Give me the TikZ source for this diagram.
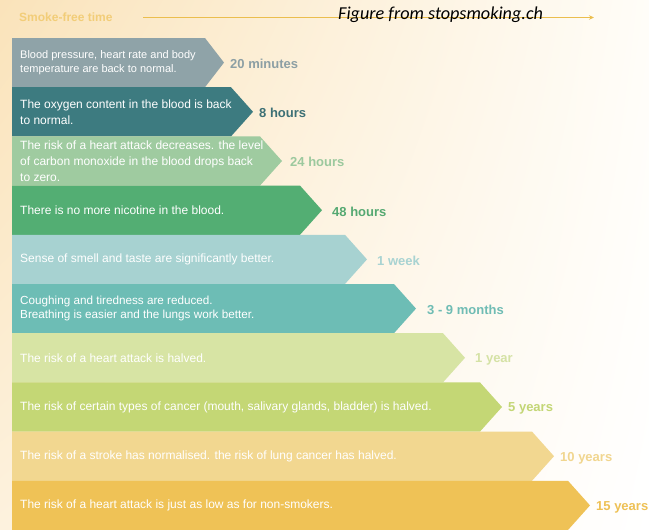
\documentclass[tikz,border=0pt]{standalone}
\usepackage{fontspec}
\setmainfont{Liberation Sans}
\newfontfamily\notefont{Carlito}
\usetikzlibrary{arrows.meta,shadings}

% band fills
\definecolor{bandA}{HTML}{8FA3A8}
\definecolor{bandB}{HTML}{3D7B80}
\definecolor{bandC}{HTML}{9FCBA0}
\definecolor{bandD}{HTML}{53AE73}
\definecolor{bandE}{HTML}{A7D2D1}
\definecolor{bandF}{HTML}{6DBDB5}
\definecolor{bandG}{HTML}{D7E4A4}
\definecolor{bandH}{HTML}{C4D775}
\definecolor{bandI}{HTML}{F2D790}
\definecolor{bandJ}{HTML}{EFC256}
% time labels
\definecolor{labA}{HTML}{8C9FA4}
\definecolor{labB}{HTML}{3C7075}
\definecolor{labC}{HTML}{9CC99E}
\definecolor{labD}{HTML}{55A972}
\definecolor{labE}{HTML}{A8D3D2}
\definecolor{labF}{HTML}{6FBCB4}
\definecolor{labG}{HTML}{D5E2A5}
\definecolor{labH}{HTML}{C3D675}
\definecolor{labI}{HTML}{F1D68F}
\definecolor{labJ}{HTML}{EEC155}
% header and background
\definecolor{headgold}{HTML}{EBBE4E}
\definecolor{titlegold}{HTML}{F2CD78}
\definecolor{bgTL}{HTML}{FAE3BA}
\definecolor{bgTR}{HTML}{FFFDF8}
\definecolor{bgBL}{HTML}{FDF2DE}

% chevron band: top y, bottom y, end of straight part, tip x, fill
\newcommand\drawband[5]{%
  \fill[#5] (12,#1) -- (#3,#1) -- (#4,{(#1+#2)/2}) -- (#3,#2) -- (12,#2) -- cycle;}

\begin{document}
\begin{tikzpicture}[x=1pt,y=-1pt,
  bandtext/.style={anchor=west, text=white, align=left, inner sep=0pt,
    font=\fontsize{12}{16}\selectfont},
  timelabel/.style={anchor=west, inner sep=0pt,
    font=\fontsize{13}{15}\selectfont\bfseries}]
\useasboundingbox (0,0) rectangle (649,530);
\shade[upper left=bgTL, upper right=bgTR, lower left=bgBL, lower right=white]
  (0,0) rectangle (649,530);

% header: time axis
\node[anchor=west, inner sep=0pt, text=titlegold,
  font=\fontsize{12}{14}\selectfont\bfseries] (title) at (19,17) {Smoke-free time};
\coordinate (axisstart) at (143,17.5);
\coordinate (axisend) at (594,17.5);
\draw[headgold, line width=1.4pt, -{Stealth[length=5pt,width=4.5pt]}] (axisstart) -- (axisend);
\node[anchor=base west, inner sep=0pt,
  font=\notefont\itshape\fontsize{18.2}{21}\selectfont] (credit) at (338,19.5) {Figure from stopsmoking.ch};

% chevron bands
\drawband{38}{87.2}{205}{224}{bandA}
\drawband{87.2}{136.4}{231}{253}{bandB}
\drawband{136.4}{185.6}{260}{282}{bandC}
\drawband{185.6}{234.8}{300}{322}{bandD}
\drawband{234.8}{284}{345}{367}{bandE}
\drawband{284}{333.2}{394}{416}{bandF}
\drawband{333.2}{382.4}{443}{465}{bandG}
\drawband{382.4}{431.6}{480}{502}{bandH}
\drawband{431.6}{480.8}{532}{554}{bandI}
\drawband{480.8}{530}{568}{590}{bandJ}

% band texts
\node[bandtext, font=\fontsize{11}{13.5}\selectfont] (t1) at (20,62.6)
  {Blood pressure, heart rate and body\\temperature are back to normal.};
\node[bandtext] (t2) at (20,111.8) {The oxygen content in the blood is back\\to normal.};
\node[bandtext] (t3) at (20,161) {The risk of a heart attack decreases. the level\\of carbon monoxide in the blood drops back\\to zero.};
\node[bandtext] (t4) at (20,210.2) {There is no more nicotine in the blood.};
\node[bandtext] (t5) at (20,259.4) {Sense of smell and taste are significantly better.};
\node[bandtext, font=\fontsize{11.7}{13.5}\selectfont] (t6) at (20,308.6)
  {Coughing and tiredness are reduced.\\Breathing is easier and the lungs work better.};
\node[bandtext] (t7) at (20,357.8) {The risk of a heart attack is halved.};
\node[bandtext] (t8) at (20,407) {The risk of certain types of cancer (mouth, salivary glands, bladder) is halved.};
\node[bandtext] (t9) at (20,456.2) {The risk of a stroke has normalised. the risk of lung cancer has halved.};
\node[bandtext] (t10) at (20,505.4) {The risk of a heart attack is just as low as for non-smokers.};

% time labels
\node[timelabel, text=labA] (l1) at (230,63.5) {20 minutes};
\node[timelabel, text=labB] (l2) at (259,112.5) {8 hours};
\node[timelabel, text=labC] (l3) at (290,162) {24 hours};
\node[timelabel, text=labD] (l4) at (332,211.5) {48 hours};
\node[timelabel, text=labE] (l5) at (377,261) {1 week};
\node[timelabel, text=labF] (l6) at (427,310) {3 - 9 months};
\node[timelabel, text=labG] (l7) at (475,359) {1 year};
\node[timelabel, text=labH] (l8) at (508,408.5) {5 years};
\node[timelabel, text=labI] (l9) at (560,458) {10 years};
\node[timelabel, text=labJ] (l10) at (596,507.5) {15 years};
\end{tikzpicture}
\end{document}
